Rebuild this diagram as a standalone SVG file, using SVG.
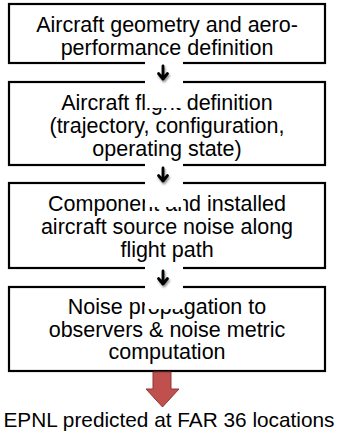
<svg xmlns="http://www.w3.org/2000/svg" width="338" height="434" viewBox="0 0 338 434">
<defs>
<style>
.box{fill:#fff;stroke:#000;stroke-width:2.2}
.t{font-family:"Liberation Sans",Arial,sans-serif;font-size:21.5px;fill:#000;text-anchor:middle}
.o{font-size:20.8px}
.mask{fill:#fff}
.arr{fill:none;stroke:#000;stroke-width:2.8;stroke-linecap:round;stroke-linejoin:round}
.big{fill:#c0504d;stroke:#8c3836;stroke-width:1}
</style>
<filter id="sh" x="-50%" y="-50%" width="200%" height="200%">
<feGaussianBlur in="SourceAlpha" stdDeviation="1.2"/>
<feOffset dx="0.5" dy="1.5" result="b"/>
<feComponentTransfer><feFuncA type="linear" slope="0.45"/></feComponentTransfer>
<feMerge><feMergeNode/><feMergeNode in="SourceGraphic"/></feMerge>
</filter>
</defs>
<g id="n1">
<rect class="box" x="9" y="4" width="316" height="59"/>
<text class="t" x="167" y="32">Aircraft geometry and aero-</text>
<text class="t" x="167" y="55">performance deﬁnition</text>
</g>
<g id="n2">
<rect class="box" x="9" y="82" width="316" height="83"/>
<text class="t" x="167" y="110">Aircraft ﬂight deﬁnition</text>
<text class="t" x="167" y="133">(trajectory, configuration,</text>
<text class="t" x="167" y="156">operating state)</text>
</g>
<g id="n3">
<rect class="box" x="9" y="183" width="316" height="85"/>
<text class="t" x="167" y="211">Component and installed</text>
<text class="t" x="167" y="234">aircraft source noise along</text>
<text class="t" x="167" y="257">ﬂight path</text>
</g>
<g id="n4">
<rect class="box" x="9" y="287" width="316" height="84"/>
<text class="t" x="167" y="314">Noise propagation to</text>
<text class="t" x="167" y="337">observers &amp; noise metric</text>
<text class="t" x="167" y="359">computation</text>
</g>
<g id="out">
<text class="t o" x="169" y="427">EPNL predicted at FAR 36 locations</text>
</g>
<g id="connectors">
<rect class="mask" x="145" y="61" width="38" height="47"/>
<rect class="mask" x="145" y="163" width="38" height="44"/>
<rect class="mask" x="145" y="266" width="38" height="43"/>
<g filter="url(#sh)">
<path class="arr" d="M163 66V79M158.5 73.5L163 79L167.5 73.5"/>
<path class="arr" d="M163 168V181M158.5 175.5L163 181L167.5 175.5"/>
<path class="arr" d="M163 271V284M158.5 278.5L163 284L167.5 278.5"/>
</g>
<path class="big" d="M153 372H171V389H179L162.5 407L146 389H153Z"/>
</g>
</svg>
